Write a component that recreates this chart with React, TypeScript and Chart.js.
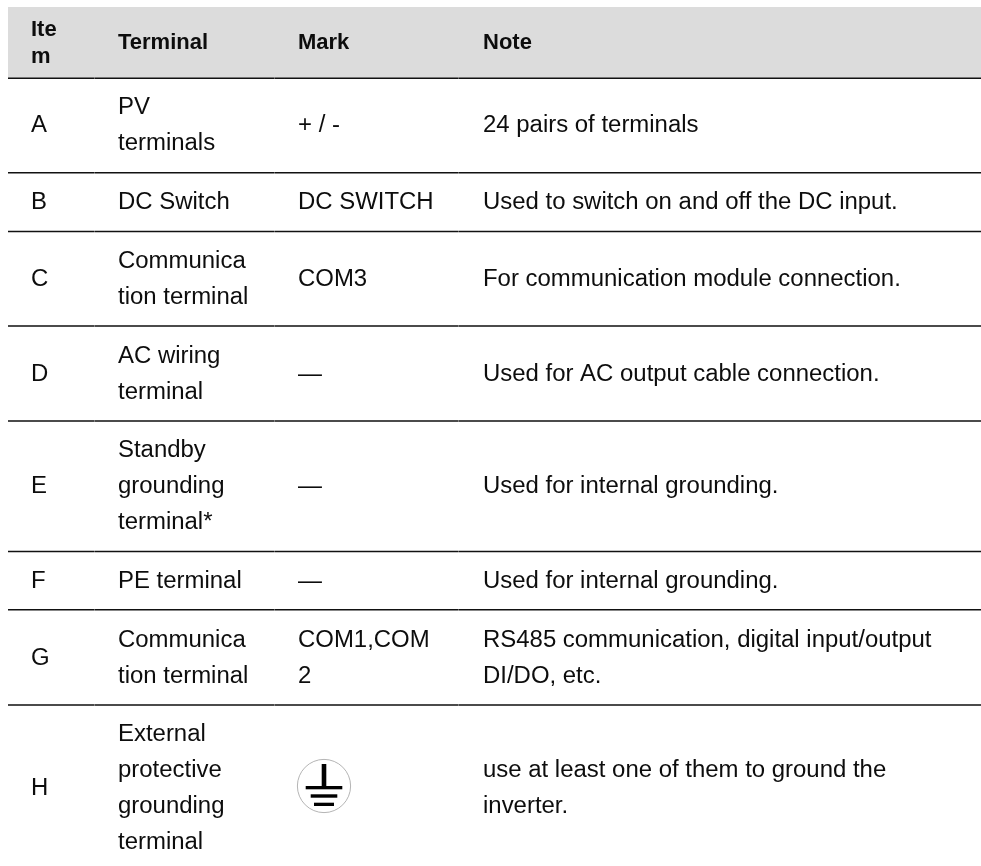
import React, { useEffect, useRef } from "react";
import { Chart, registerables } from "chart.js";

Chart.register(...registerables);

const FONT = '"Liberation Sans", Arial, sans-serif';
const W = 981;
const H = 866;

const tableLeft = 8;
const tableRight = 981;
const headerTop = 7;
const rowEdges = [78.2, 172.8, 231.5, 326, 421, 551.5, 609.7, 705];
const columnJoins = [94.5, 274.5, 458.5];
const columnX = [31, 118, 298, 483];
const headerBaseline = 49.2;
const rowBaselines = [132, 208.7, 286, 381, 493, 588, 664.7, 795];

const headers = [["Ite", "m"], ["Terminal"], ["Mark"], ["Note"]];
const items = ["A", "B", "C", "D", "E", "F", "G", "H"];
const terminals = [
  ["PV", "terminals"],
  ["DC Switch"],
  ["Communica", "tion terminal"],
  ["AC wiring", "terminal"],
  ["Standby", "grounding", "terminal*"],
  ["PE terminal"],
  ["Communica", "tion terminal"],
  ["External", "protective", "grounding", "terminal"],
];
const marks = [["+ / -"], ["DC SWITCH"], ["COM3"], ["—"], ["—"], ["—"], ["COM1,COM", "2"], [""]];
const notes = [
  ["24 pairs of terminals"],
  ["Used to switch on and off the DC input."],
  ["For communication module connection."],
  ["Used for AC output cable connection."],
  ["Used for internal grounding."],
  ["Used for internal grounding."],
  ["RS485 communication, digital input/output", "DI/DO, etc."],
  ["use at least one of them to ground the", "inverter."],
];
const groundSymbolAt = { x: 324, y: 786 };

const LINE_H = 36;
const HEAD_LINE_H = 27.4;
const BODY_PX = 23.95;
const HEAD_PX = 22;

function groundIcon(): HTMLCanvasElement {
  const c = document.createElement("canvas");
  c.width = 56;
  c.height = 56;
  const g = c.getContext("2d")!;
  g.strokeStyle = "#b4b4b4";
  g.lineWidth = 1;
  g.beginPath();
  g.arc(28, 28, 26.6, 0, Math.PI * 2);
  g.stroke();
  g.fillStyle = "#000";
  g.fillRect(25.7, 6, 4.6, 22);
  g.fillRect(9.7, 28, 36.6, 3.3);
  g.fillRect(14.7, 36.3, 26.6, 3.4);
  g.fillRect(18, 44.7, 20, 3.3);
  return c;
}

function rulePoints(v: number) {
  const pts: { x: number; y: number | null }[] = [{ x: tableLeft, y: v }];
  columnJoins.forEach((j) => {
    pts.push({ x: j - 0.15, y: v }, { x: j, y: null }, { x: j + 0.15, y: v });
  });
  pts.push({ x: tableRight, y: v });
  return pts;
}

const tablePlugin = {
  id: "tableCells",
  beforeDatasetsDraw(chart: any) {
    const { ctx, scales } = chart;
    const x = scales.x;
    const y = scales.y;
    ctx.save();
    ctx.fillStyle = "#dcdcdc";
    ctx.fillRect(
      x.getPixelForValue(tableLeft),
      y.getPixelForValue(headerTop),
      x.getPixelForValue(tableRight) - x.getPixelForValue(tableLeft),
      y.getPixelForValue(rowEdges[0]) - y.getPixelForValue(headerTop)
    );
    ctx.restore();
  },
  afterDatasetsDraw(chart: any) {
    const { ctx, scales } = chart;
    const x = scales.x;
    const y = scales.y;
    ctx.save();
    ctx.fillStyle = "#0d0d0d";
    ctx.textBaseline = "alphabetic";
    const put = (lines: string[], col: number, base: number, font: string, lh: number) => {
      ctx.font = font;
      const first = base - ((lines.length - 1) * lh) / 2;
      lines.forEach((s, i) => {
        if (s) ctx.fillText(s, x.getPixelForValue(columnX[col]), y.getPixelForValue(first + i * lh));
      });
    };
    const bold = `bold ${HEAD_PX}px ${FONT}`;
    const body = `${BODY_PX}px ${FONT}`;
    headers.forEach((h, c) => put(h, c, headerBaseline, bold, HEAD_LINE_H));
    items.forEach((s, i) => {
      const b = rowBaselines[i];
      put([s], 0, b, body, LINE_H);
      put(terminals[i], 1, b, body, LINE_H);
      put(marks[i], 2, b, body, LINE_H);
      put(notes[i], 3, b, body, LINE_H);
    });
    ctx.restore();
  },
};

export default function App() {
  const ref = useRef<HTMLCanvasElement>(null);
  useEffect(() => {
    document.body.style.margin = "0";
    const lines = rowEdges.map((v, i) => ({
      type: "line" as const,
      label: `rule ${i}`,
      data: rulePoints(v),
      borderColor: "#111111",
      borderWidth: 1.4,
      pointRadius: 0,
      spanGaps: false,
    }));
    const chart = new Chart(ref.current!, {
      type: "scatter",
      data: {
        datasets: [
          ...lines,
          {
            type: "scatter" as const,
            label: "ground symbol",
            data: [groundSymbolAt],
            pointStyle: groundIcon(),
          } as any,
        ],
      },
      options: {
        animation: false,
        responsive: false,
        layout: { padding: 0, autoPadding: false },
        plugins: { legend: { display: false }, tooltip: { enabled: false }, title: { display: false } },
        scales: {
          x: { type: "linear", min: 0, max: W, display: false },
          y: { type: "linear", min: 0, max: H, reverse: true, display: false },
        },
      },
      plugins: [tablePlugin],
    });
    return () => chart.destroy();
  }, []);
  return <canvas ref={ref} width={W} height={H} style={{ display: "block", background: "#fff" }} />;
}
